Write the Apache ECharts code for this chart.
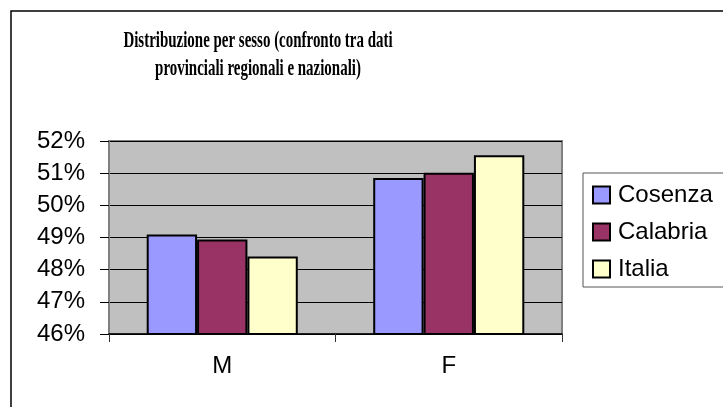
<!DOCTYPE html>
<html>
<head>
<meta charset="utf-8">
<script src="https://cdn.jsdelivr.net/npm/echarts@6/dist/echarts.min.js"></script>
<style>
  html, body { margin: 0; padding: 0; background: #fff; }
  #chart { width: 723px; height: 407px; }
</style>
</head>
<body>
<div id="chart"></div>
<script>
// categories and values (percent)
var categories = ['M', 'F']
var cosenza = [49.09, 50.85]
var calabria = [48.94, 51.01]
var italia = [48.41, 51.56]
var titleLines = ['Distribuzione per sesso (confronto tra dati', 'provinciali regionali e nazionali)']

var chart = echarts.init(document.getElementById('chart'))

function barSeries(name, data, color) {
  return {
    name: name,
    type: 'bar',
    data: data,
    barGap: '0%',
    barCategoryGap: '33.3%',
    itemStyle: {
      color: color,
      borderColor: '#000',
      borderWidth: 2
    },
    emphasis: { disabled: true },
    animation: false
  }
}

chart.setOption({
  backgroundColor: '#fff',
  textStyle: { fontFamily: 'Liberation Sans, Arial, sans-serif' },
  graphic: [
    {
      type: 'rect',
      shape: { x: 11, y: 11, width: 740, height: 420 },
      style: { fill: 'none', stroke: '#000', lineWidth: 1.5 },
      silent: true
    },
    {
      // title: the original uses a tall, narrow serif face
      type: 'text',
      x: 258,
      y: 27,
      scaleX: 0.65,
      style: {
        text: titleLines.join('\n'),
        align: 'center',
        verticalAlign: 'top',
        font: 'bold 23px "Liberation Serif", "Times New Roman", serif',
        lineHeight: 28,
        fill: '#000'
      },
      silent: true
    }
  ],
  grid: {
    left: 109,
    right: 161,
    top: 141,
    bottom: 73,
    show: true,
    backgroundColor: '#C0C0C0',
    borderColor: '#808080',
    borderWidth: 2
  },
  legend: {
    orient: 'vertical',
    left: 583,
    top: 173,
    padding: [10, 40, 6, 9],
    itemWidth: 17,
    itemHeight: 17,
    itemGap: 13,
    icon: 'rect',
    borderColor: '#555',
    borderWidth: 1,
    selectedMode: false,
    textStyle: {
      fontSize: 24,
      color: '#000',
      padding: [0, 0, 0, 3],
      fontFamily: 'Liberation Sans, Arial, sans-serif'
    }
  },
  xAxis: {
    type: 'category',
    data: categories,
    axisLine: { lineStyle: { color: '#000', width: 1.5 } },
    axisTick: { show: true, length: 8, lineStyle: { color: '#333' } },
    axisLabel: { fontSize: 24, color: '#000', margin: 20 },
    splitLine: { show: false }
  },
  yAxis: {
    type: 'value',
    min: 46,
    max: 52,
    interval: 1,
    axisLine: { show: true, lineStyle: { color: '#808080', width: 2 } },
    axisTick: { show: true, length: 9, lineStyle: { color: '#000' } },
    axisLabel: {
      fontSize: 24,
      color: '#000',
      margin: 24,
      formatter: function (v) { return Math.round(v) + '%' }
    },
    splitLine: { show: true, lineStyle: { color: '#000', width: 1 } }
  },
  series: [
    barSeries('Cosenza', cosenza, '#9999FF'),
    barSeries('Calabria', calabria, '#993366'),
    barSeries('Italia', italia, '#FFFFCC')
  ]
})
</script>
</body>
</html>
